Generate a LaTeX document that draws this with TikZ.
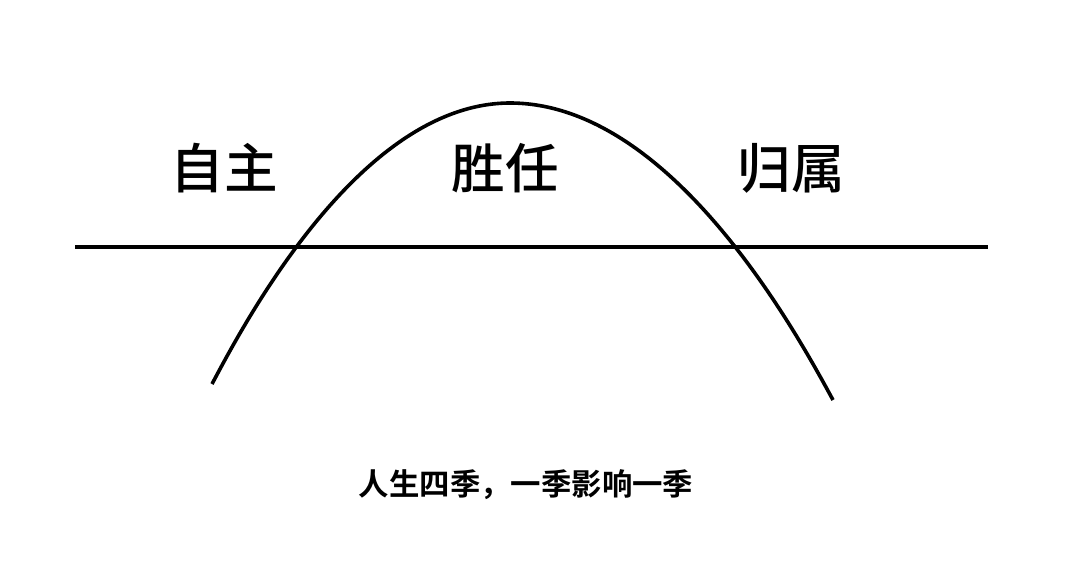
\documentclass[tikz,border=0pt]{standalone}
\usepackage{fontspec}
\newfontfamily\cjk{Noto Sans CJK SC Medium}
\newfontfamily\cjkbold{Noto Sans CJK SC Bold}
\begin{document}
\begin{tikzpicture}[x=0.5pt,y=-0.5pt,
  biglabel/.style={font=\cjk\fontsize{26.8pt}{30pt}\selectfont, inner sep=0pt, anchor=center},
  caption/.style={font=\cjkbold\fontsize{15.2pt}{18pt}\selectfont, inner sep=0pt, anchor=center},
  axisline/.style={line width=2pt},
  curveline/.style={line width=1.8pt}]
\useasboundingbox[fill=white] (0,0) rectangle (1080,574);
\coordinate (la) at (75,246.5);
\coordinate (lb) at (988,246.5);
\coordinate (cs) at (212,384);
\coordinate (ct) at (510,103);
\coordinate (ce) at (833,400);
\draw[axisline] (la) -- (lb);
\draw[curveline] (cs) parabola bend (ct) (ce);
\node[biglabel] (zizhu) at (224,168) {自主};
\node[biglabel] (shengren) at (505.5,168) {胜任};
\node[biglabel] (guishu) at (791,168) {归属};
\node[caption] (cap) at (526,485) {人生四季，一季影响一季};
\end{tikzpicture}
\end{document}
